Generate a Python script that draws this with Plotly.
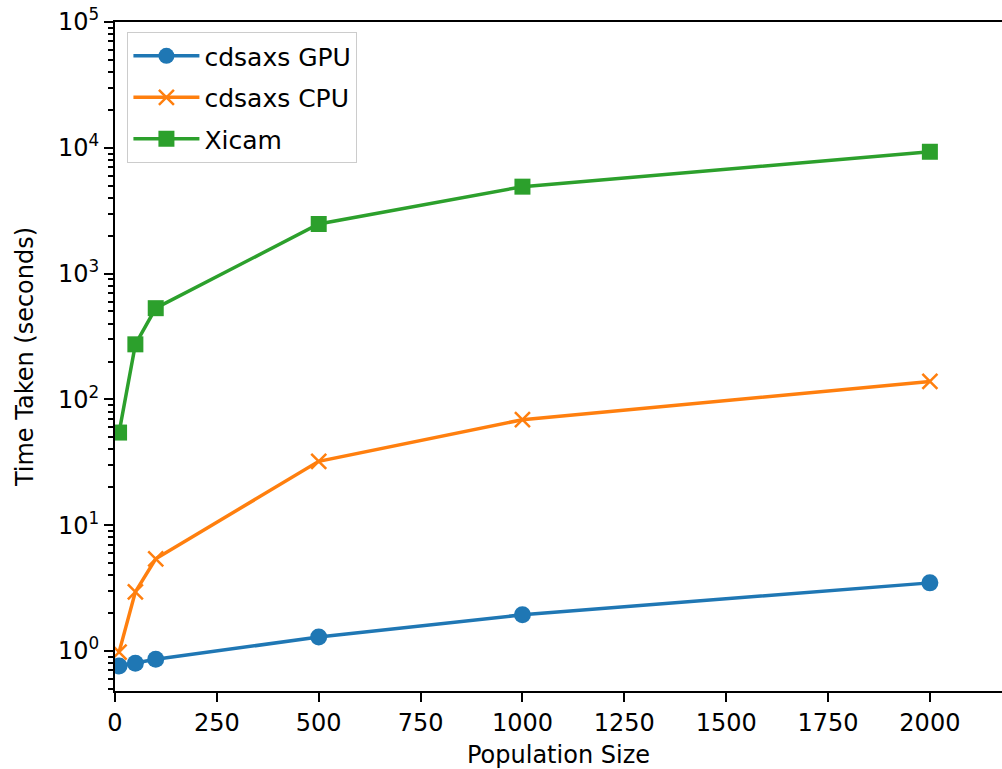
import plotly.graph_objects as go

# Benchmark data: population size vs. wall time
population = [10, 50, 100, 500, 1000, 2000]
gpu_time = [0.76, 0.80, 0.86, 1.29, 1.94, 3.48]
cpu_time = [0.98, 2.95, 5.4, 32.2, 69.0, 139.0]
xicam_time = [54.5, 274.0, 531.0, 2480.0, 4910.0, 9300.0]

x_ticks = [0, 250, 500, 750, 1000, 1250, 1500, 1750, 2000]
y_ticks = [1, 10, 100, 1000, 10000, 100000]
y_tick_text = ["10<sup>0</sup>", "10<sup>1</sup>", "10<sup>2</sup>",
               "10<sup>3</sup>", "10<sup>4</sup>", "10<sup>5</sup>"]
y_minor = [m * 10 ** k for k in range(-1, 5) for m in range(2, 10)]

FONT = "DejaVu Sans"
FS = 24

fig = go.Figure()
fig.add_trace(go.Scatter(
    x=population, y=gpu_time, name="cdsaxs GPU", mode="lines+markers",
    legendgroup="gpu",
    line=dict(color="#1f77b4", width=3.5),
    marker=dict(symbol="circle", size=17, color="#1f77b4"),
))
fig.add_trace(go.Scatter(
    x=population, y=cpu_time, name="cdsaxs CPU", mode="lines+markers",
    legendgroup="cpu",
    line=dict(color="#ff7f0e", width=3.5),
    marker=dict(symbol="x-thin-open", size=15, color="#ff7f0e",
                line=dict(color="#ff7f0e", width=2.5)),
))
fig.add_trace(go.Scatter(
    x=population, y=xicam_time, name="Xicam", mode="lines+markers",
    legendgroup="xicam",
    line=dict(color="#2ca02c", width=3.5),
    marker=dict(symbol="square", size=16, color="#2ca02c"),
))

fig.update_layout(
    width=1002, height=769,
    margin=dict(l=115, r=0, t=22, b=78),
    paper_bgcolor="white", plot_bgcolor="white",
    font=dict(family=FONT, size=FS, color="black"),
    showlegend=True,
    legend=dict(
        x=0.014, y=0.985, xanchor="left", yanchor="top",
        bgcolor="rgba(255,255,255,0.8)", bordercolor="#cccccc", borderwidth=1,
        font=dict(family=FONT, size=25, color="black"),
        itemwidth=66, tracegroupgap=6,
    ),
    xaxis=dict(
        range=[0, 2177], tickvals=x_ticks, ticktext=[str(v) for v in x_ticks],
        showgrid=False, zeroline=False, automargin=False,
        showline=True, linecolor="black", linewidth=2, mirror=True,
        ticks="outside", ticklen=9, tickwidth=2, tickcolor="black",
        title=dict(text="Population Size", standoff=22,
                   font=dict(family=FONT, size=FS)),
    ),
    yaxis=dict(
        type="log", range=[-0.318, 5.0],
        tickvals=y_ticks, ticktext=y_tick_text,
        showgrid=False, zeroline=False, automargin=False,
        showline=True, linecolor="black", linewidth=2,
        ticks="outside", ticklen=9, tickwidth=2, tickcolor="black",
        minor=dict(tickmode="array", tickvals=y_minor, ticks="outside",
                   ticklen=5, tickwidth=1.6, tickcolor="black", showgrid=False),
        title=dict(text="Time Taken (seconds)", standoff=18,
                   font=dict(family=FONT, size=FS)),
    ),
)

fig.write_html("out.html")
